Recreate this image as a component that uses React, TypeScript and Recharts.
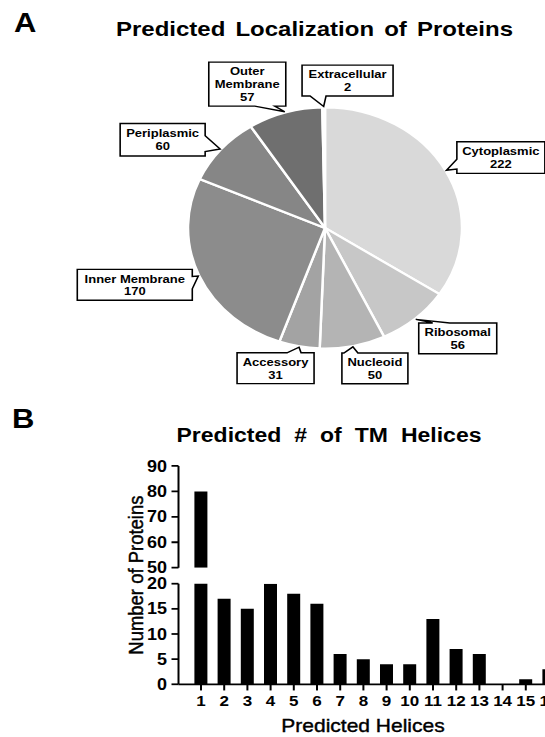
import React from "react";
import { PieChart, Pie, Cell, BarChart, Bar, XAxis, YAxis } from "recharts";

// --- panel A: localization ---
const locations = ["Cytoplasmic", "Ribosomal", "Nucleoid", "Accessory", "Inner Membrane", "Periplasmic", "Outer Membrane", "Extracellular"];
const locationCounts = [222, 56, 50, 31, 170, 60, 57, 2];
const calloutLines = [["Cytoplasmic"], ["Ribosomal"], ["Nucleoid"], ["Accessory"], ["Inner Membrane"], ["Periplasmic"], ["Outer", "Membrane"], ["Extracellular"]];

// --- panel B: TM helices ---
const helixCounts = ["1", "2", "3", "4", "5", "6", "7", "8", "9", "10", "11", "12", "13", "14", "15", "16"];
const proteinCounts = [80, 17, 15, 20, 18, 16, 6, 5, 4, 4, 13, 7, 6, 0, 1, 3];
const upperTicks = [50, 60, 70, 80, 90];
const lowerTicks = [0, 5, 10, 15, 20];

const sliceColors = ["#d9d9d9", "#c7c7c7", "#b4b4b4", "#a3a3a3", "#8c8c8c", "#868686", "#6f6f6f", "#ececec"];

// callout box placement relative to the point on the pie edge
const callouts = [
  { dx: 10.4, dy: -32.5, w: 88, h: 36, side: "left", b: [20, 31] },
  { dx: 3, dy: 4, w: 78, h: 35, side: "top", b: [14, 31] },
  { dx: -11, dy: 7, w: 66, h: 35, side: "top", b: [2, 16] },
  { dx: -62, dy: 6.4, w: 77, h: 35, side: "top", b: [50, 64] },
  { dx: -121, dy: -7.5, w: 115, h: 35, side: "right", b: [8, 22] },
  { dx: -100, dy: -29, w: 85, h: 37, side: "right", b: [14, 32] },
  { dx: -76, dy: -56.4, w: 77, h: 50, side: "bottom", b: [46, 66] },
  { dx: -21.6, dy: -47, w: 91, h: 35, side: "bottom", b: [8, 24] },
];

const FONT = "'Liberation Sans', Arial, sans-serif";
const SQUASH = 0.88;

const pieData = locations.map((name, i) => ({ name, value: locationCounts[i] }));
const helixData = helixCounts.map((h, i) => ({ helices: h, count: proteinCounts[i] }));
// upper segment of the broken axis only shows what reaches above the break
const upperData = helixData.map((d) => ({ ...d, count: d.count >= upperTicks[0] ? d.count : null }));

function calloutPath(x, y, w, h, side, b0, b1, tx, ty) {
  if (side === "top")
    return `M${x},${y} L${x + b0},${y} L${tx},${ty} L${x + b1},${y} L${x + w},${y} L${x + w},${y + h} L${x},${y + h} Z`;
  if (side === "right")
    return `M${x},${y} L${x + w},${y} L${x + w},${y + b0} L${tx},${ty} L${x + w},${y + b1} L${x + w},${y + h} L${x},${y + h} Z`;
  if (side === "bottom")
    return `M${x},${y} L${x + w},${y} L${x + w},${y + h} L${x + b1},${y + h} L${tx},${ty} L${x + b0},${y + h} L${x},${y + h} Z`;
  return `M${x},${y} L${x + w},${y} L${x + w},${y + h} L${x},${y + h} L${x},${y + b1} L${tx},${ty} L${x},${y + b0} Z`;
}

const renderCallout = (props) => {
  const { cx, cy, midAngle, outerRadius, index, value } = props;
  const rad = Math.PI / 180;
  const tx = cx + (outerRadius + 1) * Math.cos(-midAngle * rad);
  const ty = cy + (outerRadius + 1) * Math.sin(-midAngle * rad);
  const c = callouts[index];
  const x = tx + c.dx;
  const y = ty + c.dy;
  const lines = [...calloutLines[index], String(value)];
  const lh = 14.4;
  const mid = y + c.h / 2;
  return (
    <g key={`callout-${index}`}>
      <path d={calloutPath(x, y, c.w, c.h, c.side, c.b[0], c.b[1], tx, ty)} fill="#fff" stroke="#000" strokeWidth={1.6} />
      <text textAnchor="middle" fontFamily={FONT} fontWeight={700} fontSize={13} fill="#000">
        {lines.map((l, i) => (
          <tspan key={i} x={x + c.w / 2} y={mid - ((lines.length - 1) * lh) / 2 + i * lh + 4.6}>
            {l}
          </tspan>
        ))}
      </text>
    </g>
  );
};

// broken axis layout (y inside panel B charts)
const upperTop = 29.5;
const upperBottom = 145.1;
const lowerTop = 163.3;
const lowerBottom = 277.6;
const plotLeft = 118.5;
const axisW = 60;
const chartW = 571.5;
const xPad = { left: 10.9, right: 10.9 };

const axisStroke = { stroke: "#000", strokeWidth: 2 };
const yTick = { fill: "#000", fontSize: 18, fontWeight: 700, fontFamily: FONT };
const xTick = { fill: "#000", fontSize: 17, fontWeight: 700, fontFamily: FONT };

const YLabel = () => (
  <text
    x={plotLeft + 24.5}
    y={(upperTop + lowerBottom) / 2}
    transform={`rotate(-90, ${plotLeft + 24.5}, ${(upperTop + lowerBottom) / 2})`}
    textAnchor="middle"
    fontFamily={FONT}
    fontSize={21}
    fill="#000"
    stroke="#000"
    strokeWidth={0.45}
  >
    Number of Proteins
  </text>
);

const XLabel = (props) => {
  const vb = props.viewBox;
  return (
    <text
      x={vb.x + vb.width / 2 - 12}
      y={vb.y + 54.4}
      textAnchor="middle"
      fontFamily={FONT}
      fontSize={21}
      fill="#000"
      stroke="#000"
      strokeWidth={0.45}
    >
      Predicted Helices
    </text>
  );
};

export default function App() {
  const H = 737 / SQUASH;
  return (
    <div style={{ position: "absolute", left: 0, top: 0, width: 545, height: 737, overflow: "hidden", background: "#fff" }}>
      <div style={{ position: "absolute", left: 0, top: 0, width: 545, height: H, transform: `scaleY(${SQUASH})`, transformOrigin: "0 0", fontFamily: FONT }}>
        <svg width={545} height={H} style={{ position: "absolute", left: 0, top: 0 }}>
          <text x={14} y={36} fontFamily={FONT} fontWeight={700} fontSize={31} fill="#000">A</text>
          <text x={314.5} y={40.9} textAnchor="middle" fontFamily={FONT} fontWeight={700} fontSize={24} style={{ wordSpacing: 3.5 }} fill="#000">
            Predicted Localization of Proteins
          </text>
          <text x={12} y={486.4} fontFamily={FONT} fontWeight={700} fontSize={31} fill="#000">B</text>
          <text x={329} y={502} textAnchor="middle" fontFamily={FONT} fontWeight={700} fontSize={23} style={{ wordSpacing: 6.6 }} fill="#000">
            Predicted # of TM Helices
          </text>
        </svg>

        <div style={{ position: "absolute", left: 0, top: 0 }}>
          <PieChart width={545} height={480} margin={{ top: 0, right: 0, bottom: 0, left: 0 }}>
            <Pie
              data={pieData}
              dataKey="value"
              nameKey="name"
              cx={325}
              cy={259}
              outerRadius={137}
              startAngle={90}
              endAngle={-270}
              stroke="#fff"
              strokeWidth={2.5}
              label={renderCallout}
              labelLine={false}
              isAnimationActive={false}
            >
              {pieData.map((d, i) => (
                <Cell key={d.name} fill={sliceColors[i]} />
              ))}
            </Pie>
          </PieChart>
        </div>

        <div style={{ position: "absolute", left: 0, top: 500 }}>
          <BarChart
            width={chartW}
            height={lowerBottom + 65}
            data={helixData}
            margin={{ top: lowerTop, right: 0, bottom: 0, left: plotLeft }}
          >
            <XAxis
              dataKey="helices"
              height={65}
              padding={xPad}
              interval={0}
              tickSize={7}
              tickMargin={5.6}
              axisLine={axisStroke}
              tickLine={axisStroke}
              tick={xTick}
              label={{ content: XLabel }}
            />
            <YAxis
              domain={[0, 20]}
              ticks={lowerTicks}
              allowDataOverflow
              interval={0}
              width={axisW}
              tickSize={7}
              tickMargin={4.5}
              axisLine={axisStroke}
              tickLine={axisStroke}
              tick={yTick}
              label={{ content: YLabel }}
            />
            <Bar dataKey="count" fill="#000" barSize={13} isAnimationActive={false} />
          </BarChart>
        </div>

        <div style={{ position: "absolute", left: 0, top: 500 }}>
          <BarChart
            width={chartW}
            height={upperBottom + 20}
            data={upperData}
            margin={{ top: upperTop, right: 0, bottom: 20, left: plotLeft }}
          >
            <XAxis dataKey="helices" hide padding={xPad} />
            <YAxis
              domain={[50, 90]}
              ticks={upperTicks}
              allowDataOverflow
              interval={0}
              width={axisW}
              tickSize={7}
              tickMargin={4.5}
              axisLine={axisStroke}
              tickLine={axisStroke}
              tick={yTick}
            />
            <Bar dataKey="count" fill="#000" barSize={13} isAnimationActive={false} />
          </BarChart>
        </div>
      </div>
    </div>
  );
}
